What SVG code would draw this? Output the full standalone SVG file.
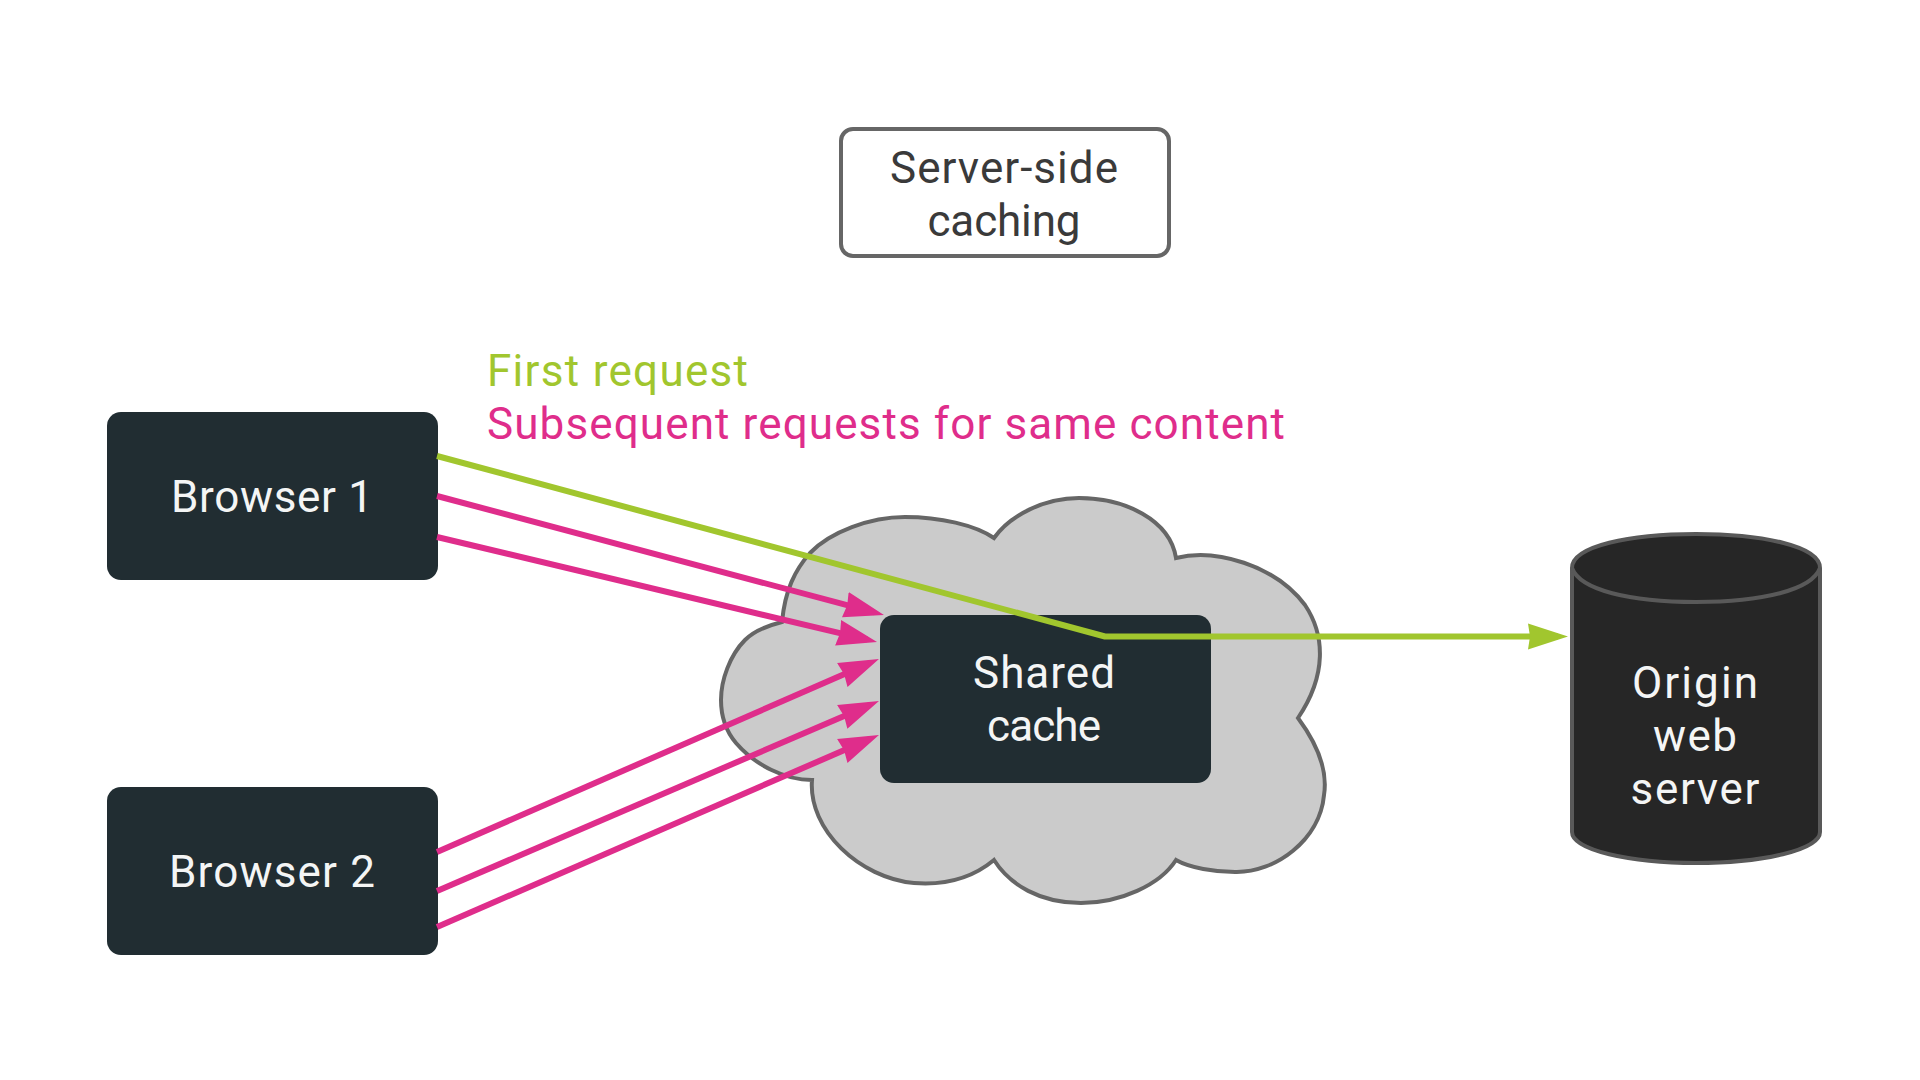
<svg xmlns="http://www.w3.org/2000/svg" width="1920" height="1080" viewBox="0 0 1920 1080">
<style>
text{font-family:Roboto,"Noto Sans","DejaVu Sans",sans-serif;font-size:44px;text-anchor:middle}
.w{fill:#f4f5f5}
.box{fill:#212d32}
.g{stroke:#a1c62e;stroke-width:6;fill:none;stroke-linejoin:round}
.p{stroke:#df2d8b;stroke-width:6;fill:none}
</style>
<defs>
<marker id="ag" markerUnits="userSpaceOnUse" markerWidth="44" markerHeight="30" refX="30" refY="15" orient="auto"><path d="M0 2L40 15L0 28L2 15Z" fill="#a1c62e"/></marker>
<marker id="ap" markerUnits="userSpaceOnUse" markerWidth="44" markerHeight="30" refX="30" refY="15" orient="auto"><path d="M0 2L40 15L0 28L2 15Z" fill="#df2d8b"/></marker>
</defs>
<rect width="1920" height="1080" fill="#fff"/>
<g id="title">
<rect x="841" y="129" width="328" height="127" rx="12" fill="#fff" stroke="#666" stroke-width="4"/>
<text x="1004" y="183" fill="#3a3a3a" textLength="228">Server-side</text>
<text x="1004" y="236" fill="#3a3a3a" textLength="153">caching</text>
</g>
<g id="legend">
<text x="487" y="386" fill="#a1c62e" style="text-anchor:start" textLength="261">First request</text>
<text x="487" y="439" fill="#df2d8b" style="text-anchor:start" textLength="798">Subsequent requests for same content</text>
</g>
<g id="browser1">
<rect class="box" x="107" y="412" width="331" height="168" rx="14"/>
<text class="w" x="272" y="512" textLength="202">Browser 1</text>
</g>
<g id="browser2">
<rect class="box" x="107" y="787" width="331" height="168" rx="14"/>
<text class="w" x="272" y="887" textLength="206">Browser 2</text>
</g>
<g id="cache">
<path id="cloud" d="M994 538C1010 515 1045 498 1079 498C1125 498 1170 520 1176 558C1215 548 1275 565 1305 605C1325 635 1327 675 1298 718C1318 745 1328 770 1324 795C1320 840 1275 873 1235 872C1215 872 1190 868 1176 860C1160 885 1120 903 1081 903C1040 903 1010 885 994 860C970 880 940 885 914 883C860 878 808 830 812 780C785 780 755 765 736 743C725 730 721 715 721 700C721 680 730 655 745 640C755 630 770 625 782 622C785 590 795 570 810 553C830 532 870 517 905 517C940 517 975 525 994 538Z" fill="#cbcbcb" stroke="#666" stroke-width="4"/>
<rect class="box" x="880" y="615" width="331" height="168" rx="14"/>
<text class="w" x="1044" y="688" textLength="142">Shared</text>
<text class="w" x="1044" y="741" textLength="114">cache</text>
</g>
<g id="origin">
<path d="M1572 568C1572 546 1630 534 1696 534C1762 534 1820 546 1820 568V832C1820 850 1762 863 1696 863C1630 863 1572 850 1572 832Z" fill="#262626" stroke="#595959" stroke-width="4"/>
<path d="M1572 568C1580 590 1630 602 1696 602C1762 602 1812 590 1820 568" fill="none" stroke="#595959" stroke-width="4"/>
<text class="w" x="1695" y="698" textLength="126">Origin</text>
<text class="w" x="1695" y="751" textLength="84">web</text>
<text class="w" x="1695" y="804" textLength="129">server</text>
</g>
<g id="connectors">
<path class="p" marker-end="url(#ap)" d="M437 496L874.3 612.4"/>
<path class="p" marker-end="url(#ap)" d="M437 537L867.3 639.7"/>
<path class="p" marker-end="url(#ap)" d="M437 852L869.8 663"/>
<path class="p" marker-end="url(#ap)" d="M437 891L869.8 705"/>
<path class="p" marker-end="url(#ap)" d="M437 927L869.8 739"/>
<path class="g" marker-end="url(#ag)" d="M437 456L1105 636.5H1558"/>
</g>
</svg>
